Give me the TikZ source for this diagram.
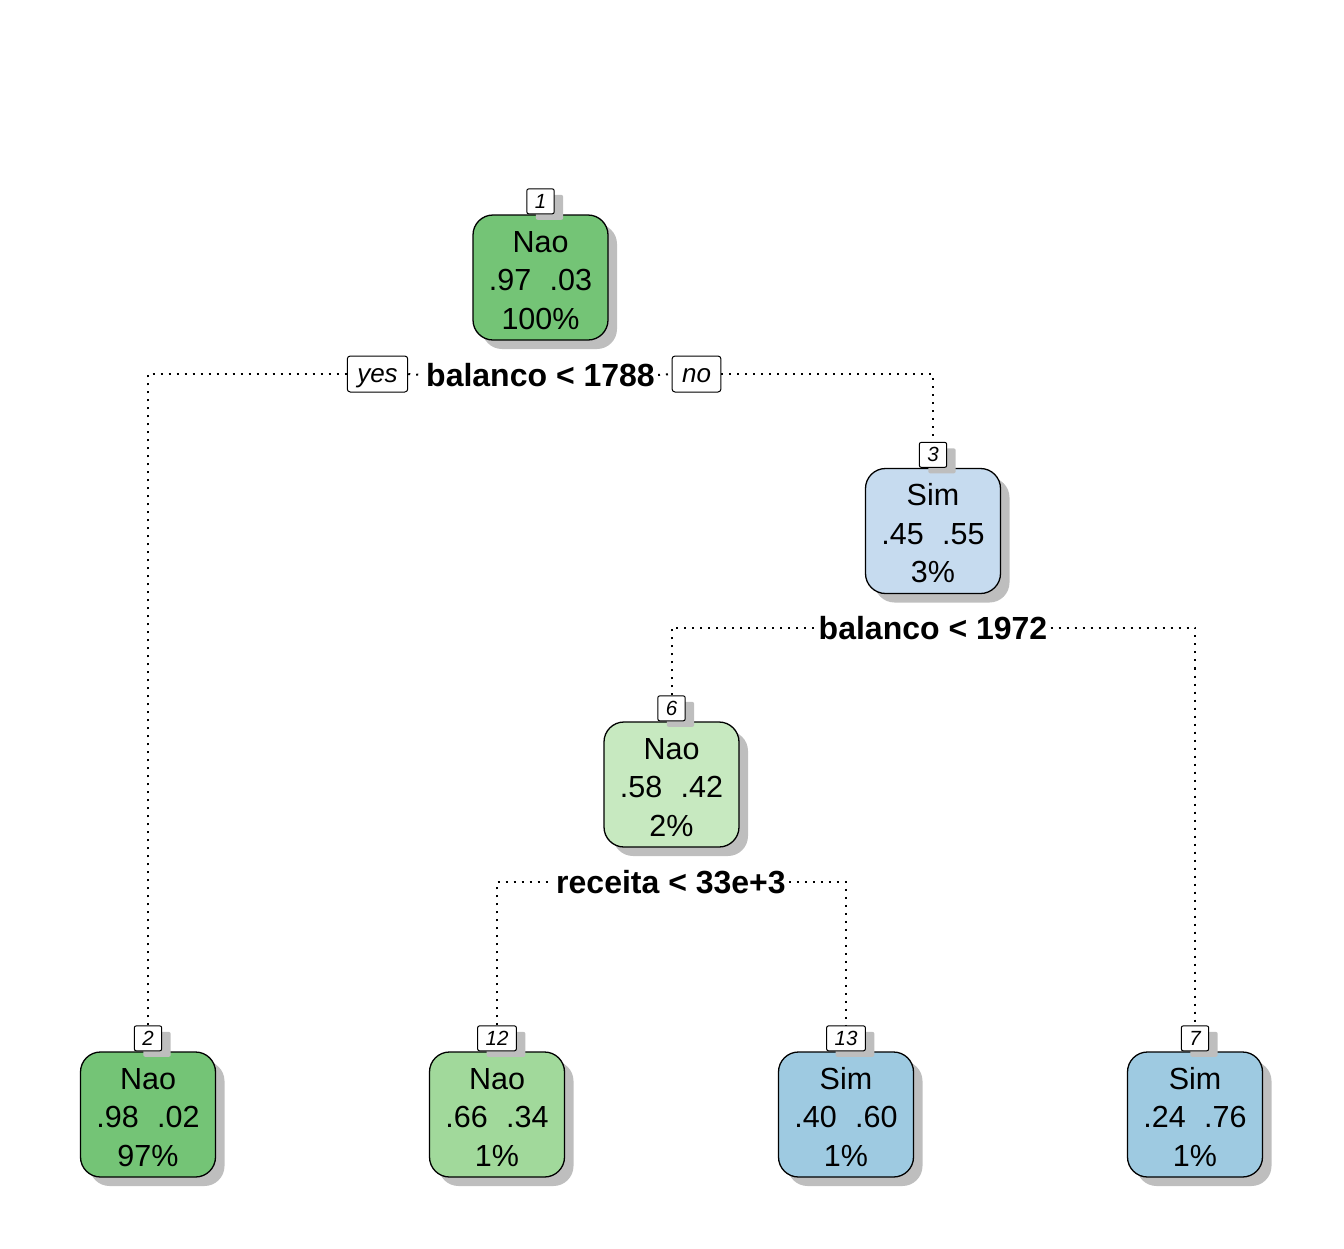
\documentclass[tikz,border=0pt]{standalone}
\usepackage{fontspec}
\setmainfont{Liberation Sans}
\usetikzlibrary{shadows,backgrounds}
\definecolor{gA}{HTML}{74C476}
\definecolor{gB}{HTML}{A1D99B}
\definecolor{gC}{HTML}{C7E9C0}
\definecolor{bA}{HTML}{C6DBEF}
\definecolor{bB}{HTML}{9ECAE1}
\definecolor{shd}{HTML}{BEBEBE}
\tikzset{
  leafbox/.style={draw=black, line width=1.3pt, rounded corners=20pt,
    minimum width=135pt, minimum height=125pt, inner sep=0pt, align=center,
    font=\fontsize{30.5}{38.5}\selectfont,
    drop shadow={shadow xshift=9pt, shadow yshift=-9pt, opacity=1, fill=shd}},
  numbox/.style={draw=black, line width=1pt, fill=white, rounded corners=2pt,
    minimum width=27pt, minimum height=25pt, inner xsep=8pt, inner ysep=2pt, anchor=south,
    font=\fontsize{20.5}{22}\selectfont\itshape,
    drop shadow={shadow xshift=9pt, shadow yshift=-6pt, opacity=1, fill=shd}},
  splitlab/.style={fill=white, inner sep=3pt, font=\fontsize{32}{36}\selectfont\bfseries},
  yesno/.style={draw=black, line width=1pt, fill=white, rounded corners=3pt,
    minimum height=36pt, inner xsep=10pt, text height=22pt, text depth=5.5pt,
    font=\fontsize{26}{28}\selectfont\itshape},
  conn/.style={line width=2pt, dash pattern=on 2pt off 6pt}
}
\newcommand{\ntext}[4]{\rule{0pt}{27pt}#1\\#2\hspace{0.6em}#3\\#4}
\begin{document}
\begin{tikzpicture}[x=1pt,y=-1pt]
\useasboundingbox (0,0) rectangle (1344,1248);
% nodes
\node[leafbox, fill=gA] (n1) at (540.5,277.5) {\ntext{Nao}{.97}{.03}{100\%}};
\node[numbox] (l1) at (n1.north) {1};
\node[leafbox, fill=bA] (n3) at (933,531) {\ntext{Sim}{.45}{.55}{3\%}};
\node[numbox] (l3) at (n3.north) {3};
\node[leafbox, fill=gC] (n6) at (671.5,784.5) {\ntext{Nao}{.58}{.42}{2\%}};
\node[numbox] (l6) at (n6.north) {6};
\node[leafbox, fill=gA] (n2) at (148,1114.5) {\ntext{Nao}{.98}{.02}{97\%}};
\node[numbox] (l2) at (n2.north) {2};
\node[leafbox, fill=gB] (n12) at (497,1114.5) {\ntext{Nao}{.66}{.34}{1\%}};
\node[numbox] (l12) at (n12.north) {12};
\node[leafbox, fill=bB] (n13) at (846,1114.5) {\ntext{Sim}{.40}{.60}{1\%}};
\node[numbox] (l13) at (n13.north) {13};
\node[leafbox, fill=bB] (n7) at (1195,1114.5) {\ntext{Sim}{.24}{.76}{1\%}};
\node[numbox] (l7) at (n7.north) {7};
% split labels
\node[splitlab] (s1) at (540.5,375) {balanco < 1788};
\node[yesno] (yes) at (377.5,374) {yes};
\node[yesno] (no) at (696.5,374) {no};
\node[splitlab] (s3) at (933,628) {balanco < 1972};
\node[splitlab] (s6) at (671,882) {receita < 33e+3};
% connectors
\begin{pgfonlayer}{background}
\draw[conn] (l2.north) |- (yes.west);
\draw[conn] (yes.east) -- (s1.west);
\draw[conn] (s1.east) -- (no.west);
\draw[conn] (no.east) -| (l3.north);
\draw[conn] (l6.north) |- (s3.west);
\draw[conn] (s3.east) -| (l7.north);
\draw[conn] (l12.north) |- (s6.west);
\draw[conn] (s6.east) -| (l13.north);
\end{pgfonlayer}
\end{tikzpicture}
\end{document}
